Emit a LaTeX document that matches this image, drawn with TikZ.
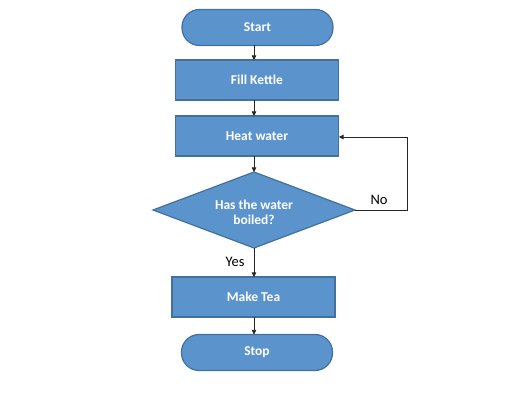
\documentclass[tikz,border=0pt]{standalone}
\usepackage{fontspec}
\setmainfont{Carlito}
\usetikzlibrary{shapes.geometric,arrows.meta}
\definecolor{boxfill}{HTML}{5B93CC}
\definecolor{boxline}{HTML}{41719C}
\begin{document}
\begin{tikzpicture}[x=1pt,y=-1pt,
  base/.style={draw=boxline,fill=boxfill,line width=1.2pt,text=white,font=\bfseries\fontsize{13.5}{16}\selectfont,inner sep=0pt,align=center},
  term/.style={base,rounded corners=17.5pt,minimum width=151pt,minimum height=36pt},
  proc/.style={base,rectangle,minimum width=163pt,minimum height=40pt},
  conn/.style={draw=black!85,line width=0.6pt,-{Triangle[length=4.5pt,width=4.5pt]}},
  lbl/.style={font=\fontsize{14.5}{17}\selectfont,text=black}]
\useasboundingbox (0,0) rectangle (509,403);
\node[term] (start) at (257.5,27.5) {Start};
\node[proc] (fill) at (257,80) {Fill Kettle};
\node[proc] (heat) at (257,136) {Heat water};
\path[draw=boxline,fill=boxfill,line width=1.2pt] (153,210) -- (254,172) -- (355,210) -- (254,248) -- cycle;
\node[text=white,font=\bfseries\fontsize{13.5}{15.5}\selectfont,align=center] (dec) at (254,212.5) {Has the water\\boiled?};
\coordinate (dtop) at (254,172);
\coordinate (dbot) at (254,248);
\coordinate (dright) at (355,210);
\node[proc] (tea) at (253.5,297) {Make Tea};
\node[term] (stop) at (257,352.5) {Stop};
\coordinate (corner1) at (407,210);
\coordinate (corner2) at (407,137);
\coordinate (heatR) at (339,137);
\draw[conn] (254,45.5) -- (254,60);
\draw[conn] (254,100) -- (254,116);
\draw[conn] (254,156) -- (dtop);
\draw[conn] (dbot) -- (254,277);
\draw[conn] (254,317) -- (254,334.5);
\draw[conn] (dright) -- (corner1) -- (corner2) -- (heatR);
\node[lbl] (no) at (379,200) {No};
\node[lbl] (yes) at (235,262) {Yes};
\end{tikzpicture}
\end{document}
